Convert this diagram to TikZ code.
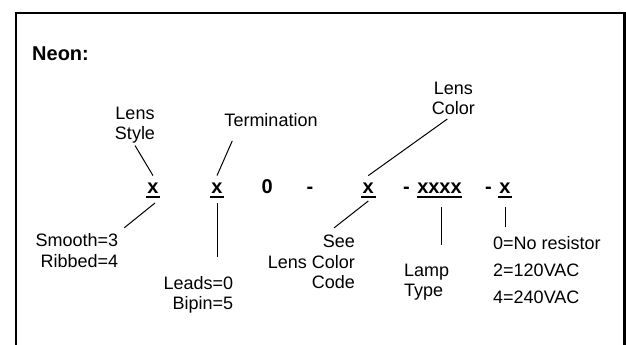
\documentclass[tikz,border=0pt]{standalone}
\usepackage{fontspec}
\setmainfont{Liberation Sans}
\usepackage{tikz}
\usetikzlibrary{calc,positioning}

\tikzset{
  code/.style={font=\bfseries\fontsize{20}{24}\selectfont, inner xsep=1.5pt, inner ysep=3.5pt, text height=14pt, text depth=0pt, anchor=base},
  lbl/.style={font=\fontsize{18}{20.5}\selectfont, inner sep=2pt},
  lead/.style={line width=1pt},
  uline/.style={line width=1.3pt}
}

\begin{document}
\begin{tikzpicture}[x=1pt,y=-1pt]
\useasboundingbox (0,0) rectangle (626,345);
\draw[line width=2.5pt] (16,345) |- (624.5,13) -- (624.5,345);

\node[anchor=base west, inner sep=0pt, font=\bfseries\fontsize{20}{24}\selectfont] (neon) at (32,60) {Neon:};

% part number
\node[code] (x1) at (153,193.3) {x};
\node[code] (x2) at (217,193.3) {x};
\node[code] (zero) at (267.3,193.3) {0};
\node[code] (d1) at (310,193.3) {-};
\node[code] (x3) at (368.3,193.3) {x};
\node[code] (d2) at (406.5,193.3) {-};
\node[code, inner xsep=0.5pt] (type) at (439.5,193.3) {xxxx};
\node[code] (d3) at (488.5,193.3) {-};
\node[code] (x4) at (505,193.3) {x};
\foreach \n in {x1,x2,x3,type,x4}
  \draw[uline] (\n.south west) -- (\n.south east);

% labels
\node[lbl, align=center] (lstyle) at (135,125) {Lens\\Style};
\node[lbl] (term) at (271,120) {Termination};
\node[lbl, align=center] (lcolor) at (453.3,98.3) {Lens\\Color};
\node[lbl, align=right, anchor=east] (smooth) at (120.3,250.8) {Smooth=3\\Ribbed=4};
\node[lbl, align=right, anchor=east] (leads) at (235.3,294.7) {Leads=0\\Bipin=5};
\node[lbl, align=right, anchor=east] (see) at (357,262) {See\\Lens Color\\Code};
\node[lbl, align=left, anchor=west] (lamptype) at (402,282) {Lamp\\Type};
\node[lbl, align=left, anchor=west, font=\fontsize{18}{27}\selectfont] (res) at (491,270) {0=No resistor\\2=120VAC\\4=240VAC};

\draw[lead] (x1.north) -- (lstyle.south);
\draw[lead] ([xshift=2pt,yshift=-6pt]x1.south) -- ([xshift=4pt,yshift=4pt]smooth.north east);
\draw[lead] (x2.north) -- ([xshift=10pt,yshift=-12pt]term.south west);
\draw[lead, shorten <=6pt, shorten >=17pt] (x2.south) -- (x2.south |- leads.north);
\draw[lead] (x3.north) -- ([xshift=-6pt,yshift=-2pt]lcolor.south);
\draw[lead] ([yshift=-4pt]x3.south) -- ([xshift=-23pt,yshift=5pt]see.north east);
\draw[lead, shorten <=10pt, shorten >=16pt] ([xshift=2pt]type.south) -- ([xshift=2pt]type.south |- lamptype.north);
\draw[lead, shorten <=10pt, shorten >=7.6pt] (x4.south) -- (x4.south |- res.north);
\end{tikzpicture}
\end{document}
